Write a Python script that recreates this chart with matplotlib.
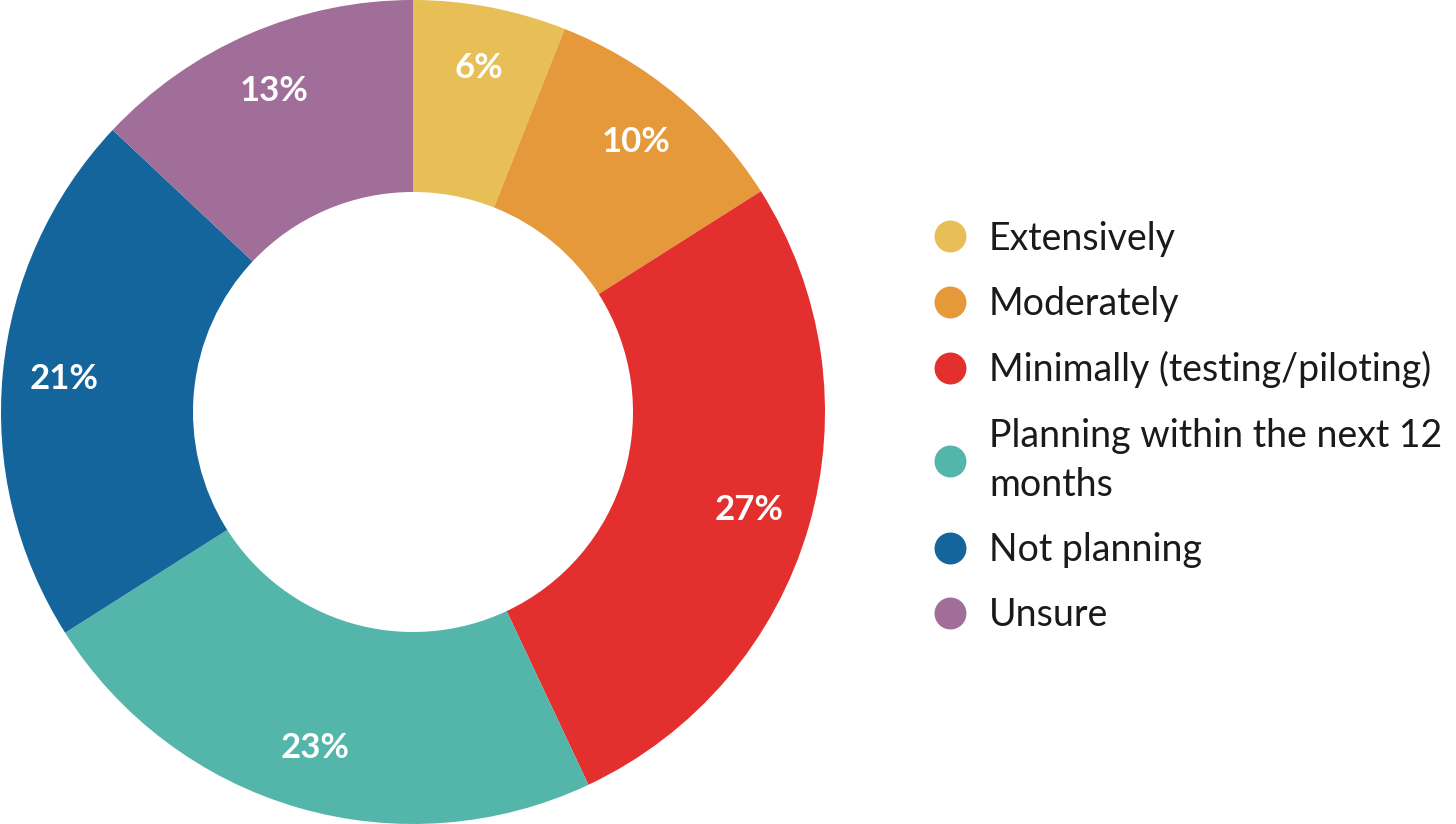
import matplotlib.pyplot as plt
from matplotlib.lines import Line2D

plt.rcParams['font.family'] = ['Lato', 'DejaVu Sans']

categories = ['Extensively', 'Moderately', 'Minimally (testing/piloting)',
              'Planning within the next 12\nmonths', 'Not planning', 'Unsure']
values = [6, 10, 27, 23, 21, 13]
colors = ['#E8BF57', '#E5993A', '#E32F2E', '#54B5AA', '#13659C', '#A06E98']

fig = plt.figure(figsize=(14.56, 8.24), dpi=100)
ax = fig.add_axes([1 / 1456, 0, 824 / 1456, 1])

wedges, texts, autotexts = ax.pie(
    values, colors=colors, startangle=90, counterclock=False,
    radius=1, wedgeprops=dict(width=0.466, linewidth=0),
    autopct='%d%%', pctdistance=0.85,
    textprops=dict(color='white', fontsize=25, fontweight='bold'))
ax.set_xlim(-1, 1)
ax.set_ylim(-1, 1)
ax.set_aspect('equal')

handles = [Line2D([0], [0], marker='o', linestyle='', markersize=23,
                  markerfacecolor=c, markeredgewidth=0) for c in colors]
leg = fig.legend(handles, categories, loc='center left',
                 bbox_to_anchor=(931 / 1456, 0.482), frameon=False,
                 fontsize=27, handletextpad=0.55, labelspacing=0.78,
                 handlelength=1.0, borderpad=0, borderaxespad=0)
for t in leg.get_texts():
    t.set_color('#1a1a1a')
    t.set_linespacing(1.45)

fig.savefig('out.png', dpi=100)
